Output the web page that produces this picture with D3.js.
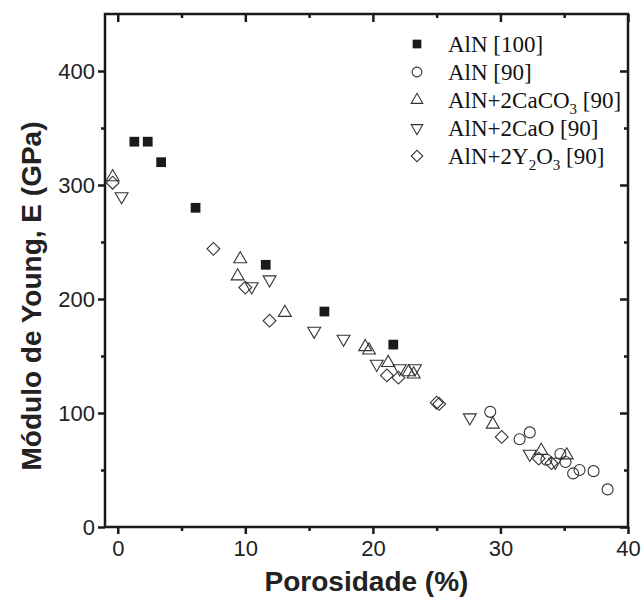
<!DOCTYPE html>
<html lang="pt">
<head>
    <meta charset="UTF-8">
    <title>Módulo de Young vs Porosidade</title>
    <style>
        body { margin: 0; background: #fff; }
        svg { display: block; }
    </style>
</head>
<body>
<script src="https://cdnjs.cloudflare.com/ajax/libs/d3/7.8.5/d3.min.js"></script>
<script>

    // data: [porosity %, E GPa]
    let aln100 = [[1.3, 338], [2.35, 338], [3.4, 320], [6.1, 280], [11.6, 230], [16.2, 189], [21.6, 160]]
    let aln90 = [[29.2, 101], [31.5, 77], [32.3, 83], [33.6, 59], [34.7, 64], [35.1, 57], [35.7, 47], [36.2, 50], [37.3, 49], [38.4, 33]]
    let alnCaCO3 = [[-0.4, 307], [9.6, 235], [9.4, 220], [13.1, 188], [19.4, 158], [19.7, 155], [21.2, 144], [22.8, 136], [23.2, 134], [29.4, 90], [33.2, 67], [35.2, 63]]
    let alnCaO = [[0.3, 290], [10.5, 211], [11.9, 217], [15.4, 172], [17.7, 165], [20.3, 143], [22.1, 139], [23.3, 139], [27.6, 96], [32.3, 64], [34.3, 57]]
    let alnY2O3 = [[-0.4, 302], [7.5, 244], [10.0, 210], [11.9, 181], [21.1, 133], [22.0, 131], [25.0, 109], [25.2, 108], [30.1, 79], [33.0, 60], [34.0, 56]]

    let xTicks = [0, 10, 20, 30, 40]
    let yTicks = [0, 100, 200, 300, 400]

    let width = 641, height = 598
    let plotL = 105, plotR = 628, plotT = 14, plotB = 527

    let x = d3.scaleLinear().domain([-1, 40]).range([plotL, plotR])
    let y = d3.scaleLinear().domain([0, 450]).range([plotB, plotT])

    let svg = d3.select("body").append("svg")
        .attr("width", width)
        .attr("height", height)

    let ink = "#1a1a1a"

    // axes: outward ticks left/bottom, inward ticks top/right
    function styleAxis(g) {
        g.select(".domain").remove()
        g.selectAll("line").attr("stroke", ink).attr("stroke-width", 2.5)
        g.selectAll("text").attr("fill", "#222")
            .style("font-family", "'Liberation Sans', Arial, sans-serif")
            .style("font-size", "22px")
    }
    let xMinor = d3.range(5, 40, 10)
    let yMinor = d3.range(50, 450, 100)

    svg.append("g").attr("transform", `translate(0,${plotB})`)
        .call(d3.axisBottom(x).tickValues(xTicks).tickSize(7).tickPadding(6))
        .call(styleAxis)
    svg.append("g").attr("transform", `translate(0,${plotB})`)
        .call(d3.axisBottom(x).tickValues(xMinor).tickSize(4).tickFormat(""))
        .call(styleAxis)
    svg.append("g").attr("transform", `translate(0,${plotT})`)
        .call(d3.axisBottom(x).tickValues(xTicks).tickSize(8).tickFormat(""))
        .call(styleAxis)
    svg.append("g").attr("transform", `translate(0,${plotT})`)
        .call(d3.axisBottom(x).tickValues(xMinor).tickSize(4).tickFormat(""))
        .call(styleAxis)

    svg.append("g").attr("transform", `translate(${plotL},0)`)
        .call(d3.axisLeft(y).tickValues(yTicks).tickSize(7).tickPadding(3))
        .call(styleAxis)
    svg.append("g").attr("transform", `translate(${plotL},0)`)
        .call(d3.axisLeft(y).tickValues(yMinor).tickSize(4).tickFormat(""))
        .call(styleAxis)
    svg.append("g").attr("transform", `translate(${plotR},0)`)
        .call(d3.axisLeft(y).tickValues(yTicks).tickSize(8).tickFormat(""))
        .call(styleAxis)
    svg.append("g").attr("transform", `translate(${plotR},0)`)
        .call(d3.axisLeft(y).tickValues(yMinor).tickSize(4).tickFormat(""))
        .call(styleAxis)

    svg.append("rect")
        .attr("x", plotL).attr("y", plotT)
        .attr("width", plotR - plotL).attr("height", plotB - plotT)
        .attr("fill", "none")
        .attr("stroke", ink)
        .attr("stroke-width", 2.5)

    // axis titles
    svg.append("text")
        .attr("x", (plotL + plotR) / 2)
        .attr("y", 591)
        .attr("text-anchor", "middle")
        .attr("fill", "#222")
        .style("font-family", "'Liberation Sans', Arial, sans-serif")
        .style("font-size", "28px")
        .style("font-weight", "bold")
        .text("Porosidade (%)")

    svg.append("text")
        .attr("transform", "translate(41,296) rotate(-90)")
        .attr("text-anchor", "middle")
        .attr("fill", "#222")
        .style("font-family", "'Liberation Sans', Arial, sans-serif")
        .style("font-size", "28px")
        .style("font-weight", "bold")
        .text("Módulo de Young, E (GPa)")

    // series
    let series = [
        {data: aln100, type: d3.symbolSquare, size: 95, rot: 0, fill: ink, label: ["AlN [100]"]},
        {data: aln90, type: d3.symbolCircle, size: 95, rot: 0, fill: "none", label: ["AlN [90]"]},
        {data: alnCaCO3, type: d3.symbolTriangle, size: 72, rot: 0, fill: "none", label: ["AlN+2CaCO", "3", " [90]"]},
        {data: alnCaO, type: d3.symbolTriangle, size: 72, rot: 180, fill: "none", label: ["AlN+2CaO [90]"]},
        {data: alnY2O3, type: d3.symbolSquare, size: 82, rot: 45, fill: "none", label: ["AlN+2Y", "2", "O", "3", " [90]"]}
    ]

    series.forEach(s => {
        svg.append("g").selectAll("path")
            .data(s.data)
            .enter()
            .append("path")
                .attr("d", d3.symbol().type(s.type).size(s.size))
                .attr("transform", d => `translate(${x(d[0])},${y(d[1])}) rotate(${s.rot})`)
                .attr("fill", s.fill)
                .attr("stroke", "#333")
                .attr("stroke-width", s.fill === "none" ? 1.1 : 0)
    })

    // legend
    let legendRows = [44, 72, 100, 128, 156]
    let legend = svg.append("g")
    series.forEach((s, i) => {
        let ly = legendRows[i]
        legend.append("path")
            .attr("d", d3.symbol().type(s.type).size(s.size * 0.8))
            .attr("transform", `translate(417,${ly}) rotate(${s.rot})`)
            .attr("fill", s.fill)
            .attr("stroke", "#333")
            .attr("stroke-width", s.fill === "none" ? 1.1 : 0)
        let t = legend.append("text")
            .attr("x", 448)
            .attr("y", ly + 8)
            .attr("fill", "#111")
            .style("font-family", "'Liberation Serif', 'Times New Roman', serif")
            .style("font-size", "23px")
        // odd parts are subscripts
        s.label.forEach((part, j) => {
            let sub = j % 2 === 1
            t.append("tspan")
                .attr("dy", sub ? 6 : (j > 0 ? -6 : 0))
                .style("font-size", sub ? "15px" : "23px")
                .text(part)
        })
    })

</script>
</body>
</html>
